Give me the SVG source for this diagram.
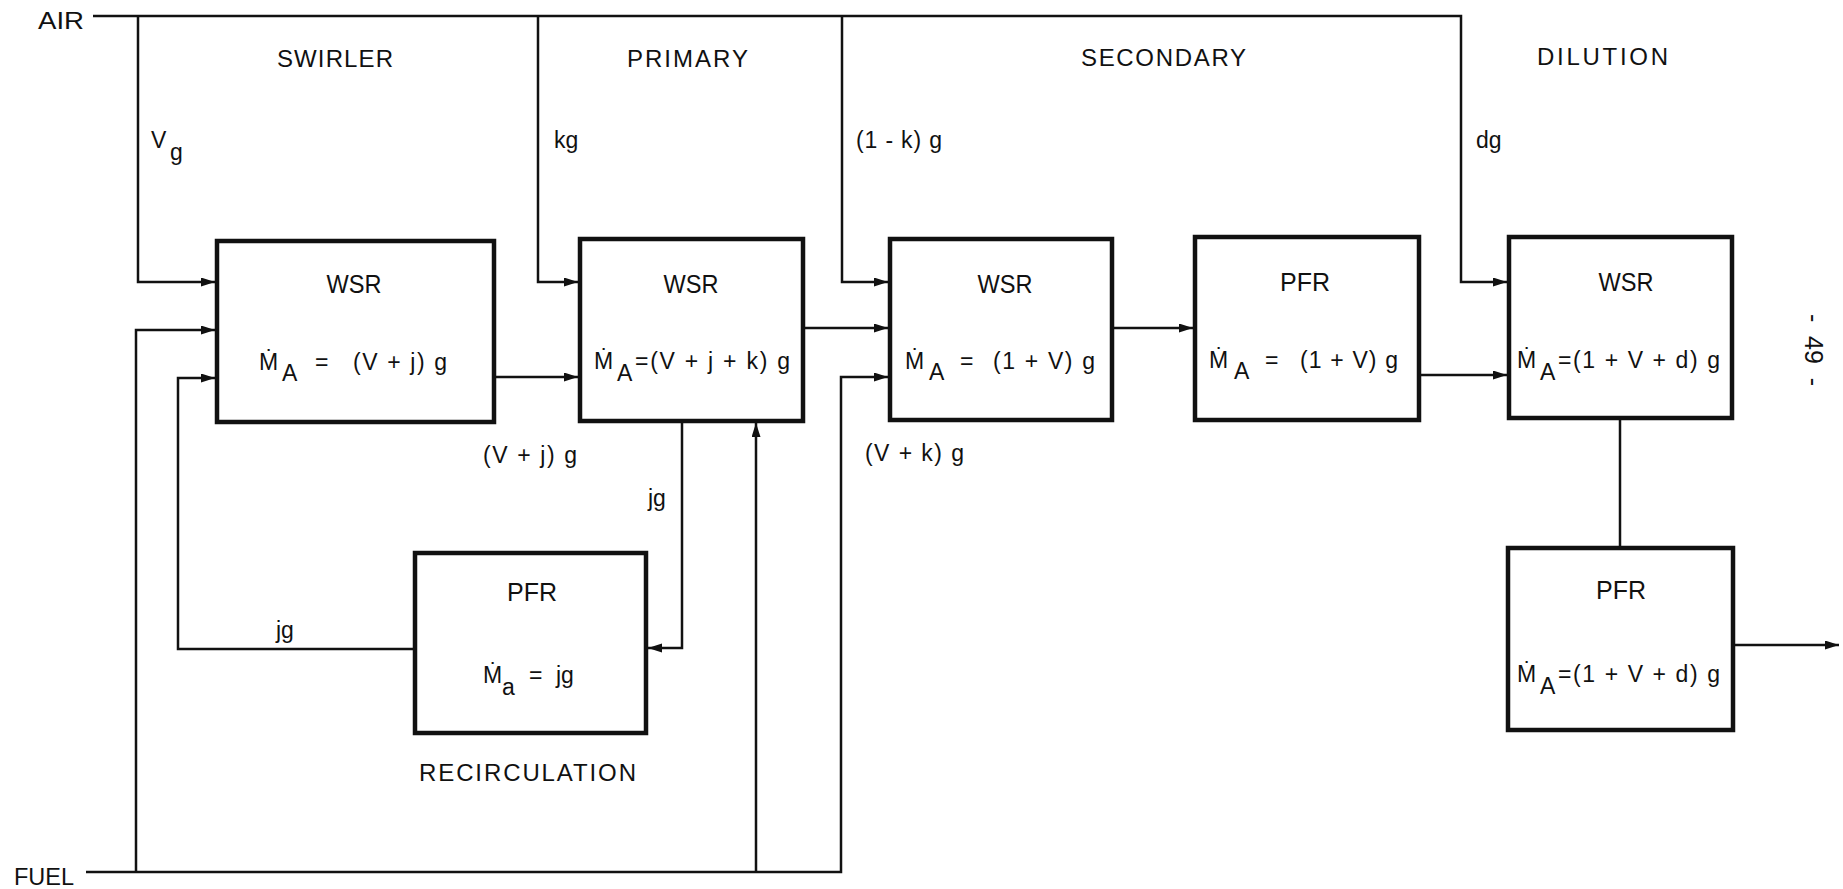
<svg xmlns="http://www.w3.org/2000/svg" width="1843" height="889" viewBox="0 0 1843 889">
<style>
.t{font-family:"Liberation Sans",Arial,"DejaVu Sans",sans-serif;fill:#111}
.sec{font-size:24px}
.lbl{font-size:26px}
.f{font-size:23px}
.sm{font-size:23px}
.box{fill:#fff;stroke:#111;stroke-width:4.5}
.c{fill:none;stroke:#111;stroke-width:2.5}
</style>
<defs>
<marker id="ah" markerUnits="userSpaceOnUse" markerWidth="16" markerHeight="10" refX="14" refY="4.5" orient="auto">
<path d="M0,0 L14,4.5 L0,9 Z" fill="#111"/>
</marker>
</defs>
<rect width="1843" height="889" fill="#fff"/>

<g id="connectors">
<path class="c" d="M93,16 H1461 V282 H1507" marker-end="url(#ah)"/>
<path class="c" d="M138,16 V282 H215" marker-end="url(#ah)"/>
<path class="c" d="M538,16 V282 H578" marker-end="url(#ah)"/>
<path class="c" d="M842,16 V282 H888" marker-end="url(#ah)"/>
<path class="c" d="M496,377 H578" marker-end="url(#ah)"/>
<path class="c" d="M805,328 H888" marker-end="url(#ah)"/>
<path class="c" d="M1114,328 H1193" marker-end="url(#ah)"/>
<path class="c" d="M1421,375 H1507" marker-end="url(#ah)"/>
<path class="c" d="M1620,420 V546"/>
<path class="c" d="M1735,645 H1839" marker-end="url(#ah)"/>
<path class="c" d="M86,872 H841 V377 H888" marker-end="url(#ah)"/>
<path class="c" d="M136,872 V330 H215" marker-end="url(#ah)"/>
<path class="c" d="M756,872 V423" marker-end="url(#ah)"/>
<path class="c" d="M682,423 V648 H648" marker-end="url(#ah)"/>
<path class="c" d="M413,649 H178 V378 H215" marker-end="url(#ah)"/>
</g>

<g id="labels">
<text class="t sm" x="38" y="29" textLength="46" lengthAdjust="spacingAndGlyphs">AIR</text>
<text class="t sm" x="14" y="885" textLength="60" lengthAdjust="spacingAndGlyphs">FUEL</text>
<text class="t sec" x="277" y="67" textLength="116">SWIRLER</text>
<text class="t sec" x="627" y="67" textLength="121">PRIMARY</text>
<text class="t sec" x="1081" y="66" textLength="165">SECONDARY</text>
<text class="t sec" x="1537" y="65" textLength="131">DILUTION</text>
<text class="t sm" x="151" y="148">V</text>
<text class="t sm" x="170" y="160" font-size="21">g</text>
<text class="t sm" x="554" y="148">kg</text>
<text class="t sm" x="856" y="148" textLength="86">(1 - k) g</text>
<text class="t sm" x="1476" y="148">dg</text>
<text class="t sm" x="483" y="463" textLength="94">(V + j) g</text>
<text class="t sm" x="865" y="461" textLength="99">(V + k) g</text>
<text class="t sm" x="648" y="506">jg</text>
<text class="t sm" x="276" y="638">jg</text>
<text class="t sec" x="419" y="781" textLength="217">RECIRCULATION</text>
<text class="t" font-size="25" transform="translate(1814,350) rotate(90)" text-anchor="middle" dominant-baseline="central" xml:space="preserve">-  49  -</text>
</g>

<g id="swirler-wsr">
<rect class="box" x="217" y="241" width="277" height="181"/>
<text class="t lbl" x="354" y="293" text-anchor="middle" textLength="55" lengthAdjust="spacingAndGlyphs">WSR</text>
<text class="t f" x="259" y="370">Ṁ</text>
<text class="t f" x="282" y="381">A</text>
<text class="t f" x="315" y="370">=</text>
<text class="t f" x="353" y="370" textLength="94">(V + j) g</text>
</g>

<g id="primary-wsr">
<rect class="box" x="580" y="239" width="223" height="182"/>
<text class="t lbl" x="691" y="293" text-anchor="middle" textLength="55" lengthAdjust="spacingAndGlyphs">WSR</text>
<text class="t f" x="594" y="369">Ṁ</text>
<text class="t f" x="617" y="381">A</text>
<text class="t f" x="635" y="369" textLength="155">=(V + j + k) g</text>
</g>

<g id="secondary-wsr">
<rect class="box" x="890" y="239" width="222" height="181"/>
<text class="t lbl" x="1005" y="293" text-anchor="middle" textLength="55" lengthAdjust="spacingAndGlyphs">WSR</text>
<text class="t f" x="905" y="369">Ṁ</text>
<text class="t f" x="929" y="380">A</text>
<text class="t f" x="960" y="369">=</text>
<text class="t f" x="993" y="369" textLength="102">(1 + V) g</text>
</g>

<g id="secondary-pfr">
<rect class="box" x="1195" y="237" width="224" height="183"/>
<text class="t lbl" x="1305" y="291" text-anchor="middle" textLength="50" lengthAdjust="spacingAndGlyphs">PFR</text>
<text class="t f" x="1209" y="368">Ṁ</text>
<text class="t f" x="1234" y="379">A</text>
<text class="t f" x="1265" y="368">=</text>
<text class="t f" x="1300" y="368" textLength="98">(1 + V) g</text>
</g>

<g id="dilution-wsr">
<rect class="box" x="1509" y="237" width="223" height="181"/>
<text class="t lbl" x="1626" y="291" text-anchor="middle" textLength="55" lengthAdjust="spacingAndGlyphs">WSR</text>
<text class="t f" x="1517" y="368">Ṁ</text>
<text class="t f" x="1540" y="380">A</text>
<text class="t f" x="1558" y="368" textLength="162">=(1 + V + d) g</text>
</g>

<g id="dilution-pfr">
<rect class="box" x="1508" y="548" width="225" height="182"/>
<text class="t lbl" x="1621" y="599" text-anchor="middle" textLength="50" lengthAdjust="spacingAndGlyphs">PFR</text>
<text class="t f" x="1517" y="682">Ṁ</text>
<text class="t f" x="1540" y="694">A</text>
<text class="t f" x="1558" y="682" textLength="162">=(1 + V + d) g</text>
</g>

<g id="recirculation-pfr">
<rect class="box" x="415" y="553" width="231" height="180"/>
<text class="t lbl" x="532" y="601" text-anchor="middle" textLength="50" lengthAdjust="spacingAndGlyphs">PFR</text>
<text class="t f" x="483" y="683">Ṁ</text>
<text class="t f" x="502" y="695">a</text>
<text class="t f" x="529" y="683">=</text>
<text class="t f" x="556" y="683">jg</text>
</g>
</svg>
